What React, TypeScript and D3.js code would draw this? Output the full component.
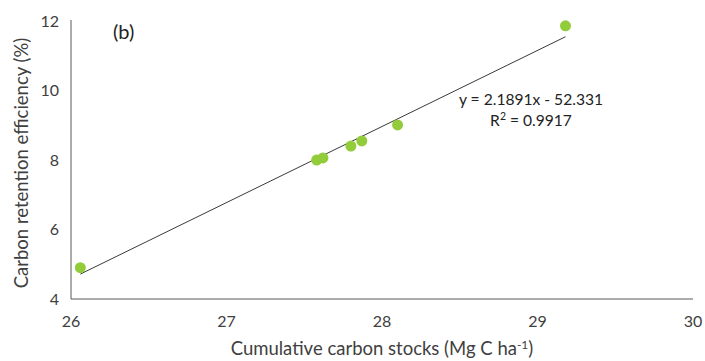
import React from "react";
import * as d3 from "d3";

const stocks = [26.06, 27.58, 27.62, 27.8, 27.87, 28.1, 29.18];
const efficiency = [4.9, 8.0, 8.06, 8.4, 8.55, 9.01, 11.86];
const xTicks = [26, 27, 28, 29, 30];
const yTicks = [4, 6, 8, 10, 12];
const slope = 2.1891;
const intercept = -52.331;
const rSquared = "0.9917";

export default function App() {
  const W = 705, H = 361;
  const x = d3.scaleLinear().domain([26, 30]).range([71, 693]);
  const y = d3.scaleLinear().domain([4, 12]).range([299, 21]);
  const xmin = d3.min(stocks)!, xmax = d3.max(stocks)!;
  const line = d3.line<number>().x((d) => x(d)).y((d) => y(slope * d + intercept));
  const font = "Lato, 'Open Sans', sans-serif";
  const tc = "#404040";
  return (
    <svg width={W} height={H} style={{ position: "absolute", left: 0, top: 0, background: "#fff" }} fontFamily={font}>
      <line x1={x(26)} x2={x(26)} y1={y(12) - 1} y2={y(4)} stroke="#595959" strokeWidth={1} />
      <line x1={x(26)} x2={x(30)} y1={y(4)} y2={y(4)} stroke="#595959" strokeWidth={1} />
      {yTicks.map((t) => (
        <text key={t} x={59} y={y(t)} dy="0.35em" textAnchor="end" fontSize={16} fill={tc}>{t}</text>
      ))}
      {xTicks.map((t) => (
        <text key={t} x={x(t)} y={327} textAnchor="middle" fontSize={16} fill={tc}>{t}</text>
      ))}
      <path d={line([xmin, xmax])!} stroke="#3a3a3a" strokeWidth={1} fill="none" />
      {stocks.map((s, i) => (
        <circle key={i} cx={x(s)} cy={y(efficiency[i])} r={5.5} fill="#92CC3A" />
      ))}
      <text x={113} y={39} fontSize={20} fill="#222">(b)</text>
      <text x={531} y={105} textAnchor="middle" fontSize={15.6} fill="#222">
        y = {slope}x - {Math.abs(intercept)}
      </text>
      <text x={531} y={126} textAnchor="middle" fontSize={15.6} fill="#222">
        R<tspan dy={-6} fontSize={10.5}>2</tspan><tspan dy={6}> = {rSquared}</tspan>
      </text>
      <text x={382} y={355} textAnchor="middle" fontSize={18.5} fill={tc}>
        Cumulative carbon stocks (Mg C ha<tspan dy={-6} fontSize={12}>-1</tspan><tspan dy={6}>)</tspan>
      </text>
      <text transform={`translate(28,163) rotate(-90)`} textAnchor="middle" fontSize={18.5} fill={tc}>
        Carbon retention efficiency (%)
      </text>
    </svg>
  );
}
